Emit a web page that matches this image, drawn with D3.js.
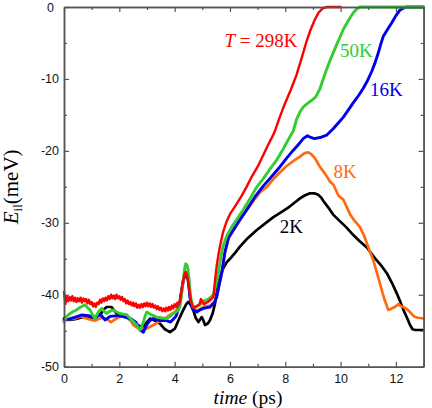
<!DOCTYPE html>
<html>
<head>
<meta charset="utf-8">
<script src="https://cdn.jsdelivr.net/npm/d3@7"></script>
<style>
  body { margin: 0; background: #fff; }
  svg { display: block; }
  .tick text { font-family: "Liberation Sans", Arial, sans-serif; font-size: 12.5px; fill: #111; }
  .lbl { font-family: "Liberation Serif", "Times New Roman", serif; }
</style>
</head>
<body>
<svg id="chart" width="432" height="408"></svg>
<script>
// time (ps) / energy (meV) pairs
var t298 = [[0,-39.6],[0.05,-41.3],[0.1,-40.2],[0.15,-40.9],[0.2,-40.3],[0.25,-40.8],[0.3,-40.2],[0.35,-40.9],[0.4,-40.4],[0.45,-41.0],
  [0.5,-40.5],[0.55,-40.9],[0.6,-40.4],[0.65,-41.1],[0.7,-40.5],[0.75,-40.9],[0.8,-40.6],[0.85,-41.2],[0.9,-40.7],[0.95,-41.3],
  [1.0,-41.0],[1.05,-41.6],[1.1,-41.2],[1.15,-41.7],[1.2,-41.1],[1.25,-41.3],[1.3,-40.7],[1.35,-41.1],[1.4,-40.5],[1.45,-40.9],
  [1.5,-40.4],[1.55,-40.8],[1.6,-40.2],[1.65,-40.6],[1.7,-40.0],[1.75,-40.5],[1.8,-40.1],[1.85,-40.6],[1.9,-40.0],[1.95,-40.5],
  [2.0,-40.2],[2.05,-40.7],[2.1,-40.3],[2.15,-40.9],[2.2,-40.6],[2.25,-41.2],[2.3,-40.8],[2.35,-41.3],[2.4,-41.0],[2.45,-41.5],
  [2.5,-41.1],[2.55,-41.6],[2.6,-41.2],[2.65,-41.8],[2.7,-41.4],[2.75,-41.8],[2.8,-41.3],[2.85,-41.7],[2.9,-41.2],[2.95,-41.6],
  [3.0,-41.1],[3.05,-41.6],[3.1,-41.2],[3.15,-41.7],[3.2,-41.3],[3.25,-41.8],[3.3,-41.5],[3.35,-42.0],[3.4,-41.6],[3.45,-42.1],
  [3.5,-41.8],[3.55,-42.3],[3.6,-41.9],[3.65,-42.3],[3.7,-41.8],[3.75,-42.2],[3.8,-41.7],[3.85,-42.1],[3.9,-41.5],[3.95,-41.9],
  [4.0,-41.3],[4.05,-41.7],[4.1,-41.1],[4.15,-41.4],[4.2,-40.9],[4.25,-39.5],[4.3,-38.2],[4.35,-37.2],[4.4,-36.8],[4.45,-37.3],
  [4.5,-38.2],[4.55,-39.8],[4.6,-41.0],[4.65,-41.6],[4.7,-41.8],[4.8,-41.6],[4.9,-41.3],[4.95,-40.6],[5.0,-40.9],[5.05,-41.3],
  [5.1,-41.2],[5.2,-41.0],[5.3,-40.7],[5.4,-40.3],[5.46,-38.0],[5.52,-36.0],[5.58,-34.5],[5.64,-33.2],[5.75,-31.3],[5.88,-29.8],
  [6.0,-28.8],[6.2,-27.6],[6.4,-26.4],[6.6,-25.0],[6.8,-23.5],[7.0,-22.2],[7.2,-20.6],[7.4,-19.0],[7.6,-17.5],[7.8,-15.3],
  [8.0,-13.3],[8.2,-11.5],[8.4,-9.5],[8.6,-7.0],[8.75,-5.0],[8.9,-3.3],[9.05,-1.9],[9.2,-0.8],[9.35,-0.2],[9.5,0],[10.0,0]];

var t50 = [[0,-43.8],[0.1,-43.0],[0.22,-42.6],[0.35,-42.3],[0.46,-42.1],[0.6,-41.7],[0.76,-41.4],[0.85,-41.8],[0.94,-42.1],[1.05,-42.9],
  [1.12,-43.3],[1.18,-42.8],[1.24,-42.4],[1.36,-41.9],[1.45,-42.3],[1.54,-42.6],[1.65,-42.3],[1.78,-42.1],[1.9,-42.4],[2.02,-42.6],
  [2.15,-42.7],[2.27,-42.8],[2.45,-43.5],[2.63,-44.2],[2.75,-44.9],[2.81,-44.4],[2.87,-43.8],[2.93,-43.0],[2.99,-42.4],[3.08,-42.6],
  [3.17,-42.8],[3.35,-43.1],[3.5,-43.2],[3.71,-43.3],[3.85,-43.0],[3.95,-42.6],[4.1,-42.3],[4.19,-41.7],[4.25,-40.0],[4.31,-38.0],
  [4.36,-36.4],[4.4,-35.7],[4.45,-35.9],[4.49,-36.6],[4.55,-39.2],[4.6,-40.8],[4.67,-41.7],[4.8,-41.6],[4.92,-41.4],[5.04,-40.9],
  [5.22,-40.6],[5.4,-40.0],[5.5,-38.5],[5.58,-37.0],[5.67,-34.8],[5.76,-33.1],[5.9,-31.7],[6.06,-30.6],[6.25,-29.5],[6.48,-28.2],
  [6.7,-26.8],[6.97,-25.0],[7.2,-23.9],[7.45,-22.5],[7.7,-21.2],[7.93,-19.7],[8.1,-18.5],[8.29,-17.2],[8.41,-15.6],[8.53,-14.6],
  [8.65,-13.9],[8.8,-13.4],[8.95,-13.0],[9.1,-12.5],[9.25,-11.4],[9.37,-10.0],[9.5,-8.6],[9.62,-7.4],[9.74,-6.3],[9.86,-5.2],
  [10.0,-4.0],[10.1,-3.1],[10.22,-2.3],[10.34,-1.5],[10.46,-0.8],[10.58,-0.3],[10.7,0],[13,0]];

var t16 = [[0,-43.5],[0.17,-43.4],[0.41,-43.1],[0.65,-42.8],[0.89,-42.9],[1.13,-43.2],[1.31,-42.7],[1.49,-43.5],[1.67,-43.0],[1.98,-42.9],
  [2.2,-43.1],[2.4,-43.3],[2.6,-43.8],[2.75,-44.9],[2.87,-45.2],[2.99,-44.2],[3.1,-43.6],[3.23,-43.3],[3.47,-43.6],[3.71,-43.6],
  [3.85,-43.8],[3.95,-43.4],[4.05,-43.0],[4.13,-42.1],[4.2,-40.8],[4.25,-39.4],[4.31,-38.0],[4.37,-37.3],[4.43,-37.0],[4.49,-38.0],
  [4.55,-40.3],[4.61,-41.5],[4.67,-42.1],[4.8,-42.4],[4.92,-42.1],[5.04,-41.9],[5.28,-41.7],[5.45,-41.0],[5.52,-40.3],[5.6,-38.8],
  [5.7,-37.0],[5.82,-34.0],[5.95,-32.0],[6.12,-31.0],[6.35,-29.6],[6.6,-28.2],[6.9,-26.4],[7.2,-24.9],[7.5,-23.6],[7.81,-22.2],
  [8.05,-21.0],[8.29,-19.9],[8.5,-19.0],[8.65,-18.3],[8.8,-17.9],[8.9,-18.1],[9.05,-18.3],[9.3,-18.1],[9.5,-17.8],[9.74,-16.9],
  [9.9,-16.2],[10.1,-15.3],[10.3,-14.2],[10.46,-13.3],[10.65,-12.3],[10.82,-11.3],[10.95,-10.4],[11.12,-9.0],[11.25,-7.7],[11.36,-6.4],
  [11.45,-5.2],[11.54,-4.1],[11.7,-3.1],[11.85,-2.2],[12.0,-1.2],[12.15,-0.4],[12.3,-0.1],[12.4,0],[13,0]];

var t8 = [[0,-43.6],[0.2,-43.4],[0.4,-43.3],[0.6,-43.0],[0.72,-43.2],[0.9,-43.4],[1.1,-43.6],[1.37,-43.2],[1.55,-43.4],[1.7,-43.8],
  [1.9,-43.3],[2.1,-42.9],[2.27,-42.8],[2.4,-43.5],[2.5,-44.2],[2.62,-44.5],[2.75,-44.7],[2.99,-44.7],[3.23,-44.2],[3.4,-43.8],
  [3.59,-43.5],[3.83,-42.8],[4.01,-42.4],[4.13,-41.8],[4.2,-40.5],[4.27,-39.0],[4.34,-37.8],[4.4,-37.3],[4.46,-37.6],[4.52,-39.0],
  [4.58,-40.8],[4.65,-41.8],[4.8,-42.2],[4.95,-41.9],[5.1,-41.6],[5.3,-41.5],[5.45,-40.9],[5.52,-40.3],[5.6,-38.8],[5.7,-37.0],
  [5.82,-34.2],[5.95,-32.2],[6.12,-31.1],[6.35,-29.7],[6.6,-28.3],[6.9,-26.7],[7.1,-25.7],[7.33,-25.0],[7.6,-23.8],[7.8,-23.0],
  [8.05,-22.1],[8.3,-21.4],[8.53,-20.8],[8.7,-20.3],[8.83,-20.2],[8.95,-20.5],[9.07,-21.0],[9.25,-22.2],[9.44,-23.2],[9.62,-24.3],
  [9.74,-24.7],[9.92,-26.2],[10.1,-26.8],[10.22,-27.8],[10.34,-28.8],[10.5,-29.7],[10.7,-30.6],[10.85,-31.8],[11.0,-33.4],[11.18,-35.2],
  [11.3,-36.8],[11.42,-38.4],[11.52,-39.8],[11.6,-40.8],[11.72,-42.1],[11.8,-42.0],[11.9,-41.8],[12.0,-41.6],[12.09,-41.3],[12.18,-41.6],
  [12.27,-41.7],[12.4,-42.0],[12.51,-42.4],[12.6,-42.8],[12.69,-43.1],[12.8,-43.2],[13,-43.3]];

var t2 = [[0,-43.3],[0.2,-43.5],[0.4,-43.4],[0.6,-43.2],[0.82,-43.1],[1.0,-43.2],[1.3,-42.8],[1.45,-42.0],[1.54,-41.7],[1.72,-41.7],
  [1.9,-42.6],[2.1,-42.9],[2.27,-43.1],[2.45,-43.7],[2.63,-44.2],[2.87,-44.5],[3.0,-43.8],[3.11,-43.3],[3.3,-43.6],[3.47,-44.0],
  [3.65,-44.8],[3.83,-45.2],[4.01,-44.7],[4.19,-43.1],[4.3,-42.2],[4.42,-41.3],[4.49,-41.0],[4.58,-41.4],[4.67,-42.1],[4.76,-43.2],
  [4.86,-43.8],[4.98,-43.1],[5.04,-43.6],[5.1,-44.2],[5.2,-44.0],[5.28,-43.5],[5.38,-42.5],[5.46,-41.2],[5.55,-39.0],[5.64,-37.5],
  [5.76,-36.3],[5.88,-35.5],[6.0,-35.0],[6.2,-34.1],[6.36,-33.3],[6.6,-32.3],[6.97,-31.0],[7.3,-30.0],[7.57,-29.2],[7.9,-28.4],
  [8.17,-27.7],[8.4,-27.0],[8.53,-26.6],[8.7,-26.2],[8.89,-25.9],[9.05,-25.9],[9.19,-26.1],[9.3,-26.5],[9.44,-27.3],[9.6,-28.1],
  [9.74,-28.9],[9.98,-29.8],[10.2,-30.6],[10.46,-31.7],[10.7,-32.6],[10.94,-33.4],[11.1,-34.2],[11.3,-35.2],[11.5,-36.1],[11.67,-37.0],
  [11.85,-38.3],[12.03,-39.8],[12.15,-40.9],[12.27,-42.1],[12.4,-43.2],[12.51,-44.2],[12.6,-44.8],[12.7,-44.9],[13,-44.9]];

var xMajor = [0, 2, 4, 6, 8, 10, 12];
var xMinor = [1, 3, 5, 7, 9, 11, 13];
var yMajor = [0, -10, -20, -30, -40, -50];
var yMinor = [-5, -15, -25, -35, -45];

var svg = d3.select('#chart');
var padding = {t: 7, r: 8.4, b: 41.3, l: 64};
var W = +svg.attr('width'), H = +svg.attr('height');

var x = d3.scaleLinear().domain([0, 13]).range([padding.l, W - padding.r]);
var y = d3.scaleLinear().domain([-50, 0]).range([H - padding.b, padding.t]);

var line = d3.line()
  .x(function(d) { return x(d[0]); })
  .y(function(d) { return y(d[1]); });

// series, drawn bottom to top
var series = [
  {data: t2, color: '#000000', w: 2.7},
  {data: t8, color: '#ff6a10', w: 2.7},
  {data: t16, color: '#0000ee', w: 2.9},
  {data: t50, color: '#33cc33', w: 2.9},
  {data: t298, color: '#ff0000', w: 2.4}
];

svg.append('g').selectAll('path')
  .data(series)
  .enter().append('path')
  .attr('d', function(d) { return line(d.data); })
  .attr('fill', 'none')
  .attr('stroke', function(d) { return d.color; })
  .attr('stroke-width', function(d) { return d.w; })
  .attr('stroke-linejoin', 'round')
  .attr('stroke-linecap', 'round');

// axes - ticks point inward on all sides
function styleAxis(g) {
  g.selectAll('.domain').attr('stroke', '#555').attr('stroke-width', 1.5);
  g.selectAll('.tick line').attr('stroke', '#555').attr('stroke-width', 1.2);
}
var plain = function(d) { return String(d); };  // hyphen minus like the original

var yBottom = H - padding.b, xLeft = padding.l, xRight = W - padding.r, yTop = padding.t;

svg.append('g').attr('transform', 'translate(0,' + yBottom + ')')
  .call(d3.axisBottom(x).tickValues(xMajor).tickSize(-5).tickSizeOuter(0).tickPadding(7).tickFormat(plain))
  .call(styleAxis);
svg.append('g').attr('transform', 'translate(0,' + yBottom + ')')
  .call(d3.axisBottom(x).tickValues(xMinor).tickSize(-3).tickSizeOuter(0).tickFormat(''))
  .call(styleAxis);
svg.append('g').attr('transform', 'translate(0,' + yTop + ')')
  .call(d3.axisTop(x).tickValues(xMajor).tickSize(-5).tickSizeOuter(0).tickFormat(''))
  .call(styleAxis);
svg.append('g').attr('transform', 'translate(0,' + yTop + ')')
  .call(d3.axisTop(x).tickValues(xMinor).tickSize(-3).tickSizeOuter(0).tickFormat(''))
  .call(styleAxis);

var yLeftAxis = svg.append('g').attr('transform', 'translate(' + xLeft + ',0)')
  .call(d3.axisLeft(y).tickValues(yMajor).tickSize(-5).tickSizeOuter(0).tickPadding(5).tickFormat(plain))
  .call(styleAxis);
// the "0" label sits a bit further left in the original
yLeftAxis.selectAll('.tick text').filter(function(d) { return d === 0; }).attr('dx', -5);
svg.append('g').attr('transform', 'translate(' + xLeft + ',0)')
  .call(d3.axisLeft(y).tickValues(yMinor).tickSize(-3).tickSizeOuter(0).tickFormat(''))
  .call(styleAxis);
svg.append('g').attr('transform', 'translate(' + xRight + ',0)')
  .call(d3.axisRight(y).tickValues(yMajor).tickSize(-5).tickSizeOuter(0).tickFormat(''))
  .call(styleAxis);
svg.append('g').attr('transform', 'translate(' + xRight + ',0)')
  .call(d3.axisRight(y).tickValues(yMinor).tickSize(-3).tickSizeOuter(0).tickFormat(''))
  .call(styleAxis);

// axis titles
var xt = svg.append('text').attr('class', 'lbl')
  .attr('x', 248).attr('y', 404).attr('text-anchor', 'middle').attr('font-size', 19.5);
xt.append('tspan').attr('font-style', 'italic').text('time');
xt.append('tspan').text(' (ps)');

var yt = svg.append('text').attr('class', 'lbl')
  .attr('transform', 'translate(18,' + ((yTop + yBottom) / 2) + ') rotate(-90)')
  .attr('text-anchor', 'middle').attr('font-size', 21);
yt.append('tspan').attr('font-style', 'italic').text('E');
yt.append('tspan').attr('font-size', 13).attr('dy', 4).text('il');
yt.append('tspan').attr('dy', -4).text('(meV)');

// curve labels
var labels = [
  {pre: 'T', text: ' = 298K', t: 5.8, e: -5.5, color: '#ff0000'},
  {pre: '', text: '50K', t: 9.98, e: -7.0, color: '#33cc33'},
  {pre: '', text: '16K', t: 11.06, e: -12.4, color: '#0000ee'},
  {pre: '', text: '8K', t: 9.74, e: -23.8, color: '#ff6a10'},
  {pre: '', text: '2K', t: 7.8, e: -31.4, color: '#000000'}
];
labels.forEach(function(l) {
  var tx = svg.append('text').attr('class', 'lbl')
    .attr('x', x(l.t)).attr('y', y(l.e))
    .attr('font-size', 19).attr('fill', l.color);
  if (l.pre) tx.append('tspan').attr('font-style', 'italic').text(l.pre);
  tx.append('tspan').text(l.text);
});
</script>
</body>
</html>
